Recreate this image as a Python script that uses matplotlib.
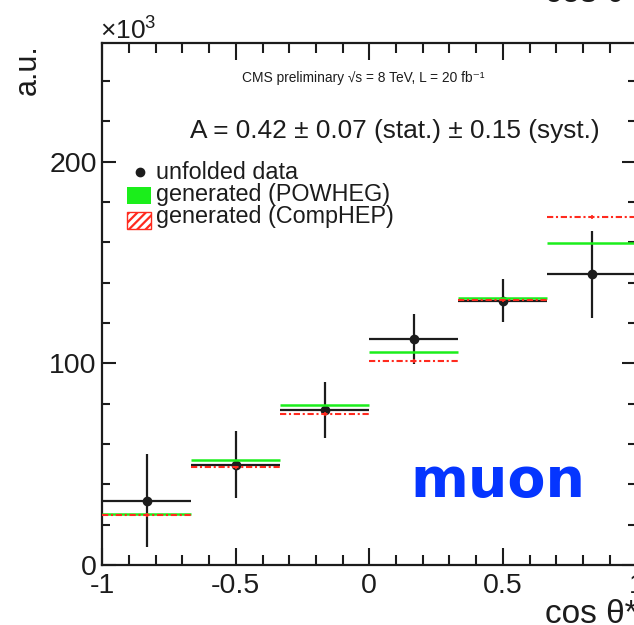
import numpy as np
import matplotlib
matplotlib.use("Agg")
import matplotlib.pyplot as plt
from matplotlib.patches import Rectangle
from matplotlib.lines import Line2D
from matplotlib.ticker import MultipleLocator, FixedLocator, FixedFormatter
from matplotlib import font_manager

plt.rcParams['font.family'] = ['Liberation Sans', 'DejaVu Sans']
plt.rcParams['axes.unicode_minus'] = False
plt.rcParams['mathtext.fontset'] = 'custom'
plt.rcParams['mathtext.rm'] = 'Liberation Sans'
plt.rcParams['hatch.linewidth'] = 1.6

# narrow face for the in-plot annotations, if it is around
names = {f.name for f in font_manager.fontManager.ttflist}
narrow = 'Liberation Sans Narrow' if 'Liberation Sans Narrow' in names else 'Liberation Sans'
ann_scale = 1.0 if narrow == 'Liberation Sans Narrow' else 0.82

# cos(theta*) bins, values in units of 10^3
bin_edges = [-1.0, -2/3, -1/3, 0.0, 1/3, 2/3, 1.0]
unfolded = [31.9, 49.7, 76.9, 112.0, 131.1, 144.1]
unfolded_err = [23.2, 16.6, 14.0, 12.5, 10.8, 21.6]
powheg = [25.4, 52.0, 79.2, 105.6, 132.4, 159.6]
comphep = [24.8, 48.4, 74.9, 101.2, 131.2, 172.6]
comphep_err = [0.8, 0.8, 0.8, 0.8, 0.8, 0.8]

x_ticks = [-1, -0.5, 0, 0.5, 1]
x_ticklabels = ['-1', '-0.5', '0', '0.5', '1']
y_ticks = [0, 100, 200]
y_ticklabels = ['0', '100', '200']

black = '#1c1c1c'
green = '#1bee1b'
red = '#ff2a1e'

edges = np.array(bin_edges)
lo, hi = edges[:-1], edges[1:]
centers = 0.5 * (lo + hi)
half = 0.5 * (hi - lo)

W, H = 634, 625
fig = plt.figure(figsize=(W / 100, H / 100), dpi=100)
x0, x1, y_top, y_bot = 102.3, 636.3, 43.3, 565.0
ax = fig.add_axes([x0 / W, 1 - y_bot / H, (x1 - x0) / W, (y_bot - y_top) / H])

# data with stat. errors
ax.errorbar(centers, unfolded, xerr=half, yerr=unfolded_err, fmt='o', color=black,
            ms=6, lw=1.6, capsize=0, zorder=3)
# generator predictions
ax.hlines(powheg, lo, hi, colors=green, lw=1.8, zorder=4)
ax.hlines(comphep, lo, hi, colors=red, lw=1.5, linestyles=(0, (3.0, 1.3, 1.0, 1.3)), zorder=5)
ax.errorbar(centers, comphep, yerr=comphep_err, fmt='none', ecolor=red, lw=1.2, capsize=0, zorder=5)

ax.set_xlim(-1, 1)
ax.set_ylim(0, 258.7)

ax.xaxis.set_major_locator(FixedLocator(x_ticks))
ax.xaxis.set_major_formatter(FixedFormatter(x_ticklabels))
ax.xaxis.set_minor_locator(MultipleLocator(0.1))
ax.yaxis.set_major_locator(FixedLocator(y_ticks))
ax.yaxis.set_major_formatter(FixedFormatter(y_ticklabels))
ax.yaxis.set_minor_locator(MultipleLocator(20))

ax.tick_params(which='both', direction='in', top=True, right=True, color=black, width=1.5,
               labelsize=20.5, labelcolor=black)
ax.tick_params(axis='x', which='major', length=12, pad=6)
ax.tick_params(axis='x', which='minor', length=7)
ax.tick_params(axis='y', which='major', length=10, pad=4)
ax.tick_params(axis='y', which='minor', length=5.5)
for s in ax.spines.values():
    s.set_linewidth(1.6)
    s.set_color(black)


def fpos(x, y):
    # pixel position (top-left origin) -> figure fraction
    return x / W, 1 - y / H


# axis titles
fig.text(*fpos(638, 623), 'cos θ*', fontsize=24, ha='right', va='baseline', color=black)
fig.text(*fpos(638, 1.5), 'cos θ*', fontsize=24, ha='right', va='baseline', color=black)
fig.text(*fpos(28, 44), 'a.u.', fontsize=22, rotation=90, ha='center', va='top', color=black)
fig.text(*fpos(100, 40), r'$\mathregular{\times10^{3}}$', fontsize=19, ha='left', va='baseline',
         color=black)

# annotations
fig.text(*fpos(241.5, 81.7), 'CMS preliminary √s = 8 TeV, L = 20 fb⁻¹',
         fontsize=13.4 * ann_scale * 0.9, family=[narrow, 'DejaVu Sans'],
         ha='left', va='baseline', color=black)
fig.text(*fpos(190, 138.3), 'A = 0.42 ± 0.07 (stat.) ± 0.15 (syst.)', fontsize=23 * ann_scale,
         family=[narrow, 'DejaVu Sans'], ha='left', va='baseline', color=black)
fig.text(*fpos(498, 497), 'muon', fontsize=40, family='DejaVu Sans', weight='bold',
         color='#0535ff', ha='center', va='baseline')

# legend
fig.add_artist(Line2D([140 / W], [1 - 172 / H], marker='o', ms=6, color=black,
                      linestyle='none', transform=fig.transFigure))
gx, gy = fpos(127, 204)
fig.add_artist(Rectangle((gx, gy), 24 / W, 17 / H, facecolor=green, edgecolor='none',
                         transform=fig.transFigure))
rx, ry = fpos(127, 229)
fig.add_artist(Rectangle((rx, ry), 24 / W, 17 / H, facecolor='white', edgecolor=red,
                         hatch='////', lw=1.0, transform=fig.transFigure))
leg_labels = ['unfolded data', 'generated (POWHEG)', 'generated (CompHEP)']
for lab, yb in zip(leg_labels, [179, 201, 223.5]):
    fig.text(*fpos(156, yb), lab, fontsize=16.8, ha='left', va='baseline', color=black)

fig.savefig('out.png', dpi=100)
